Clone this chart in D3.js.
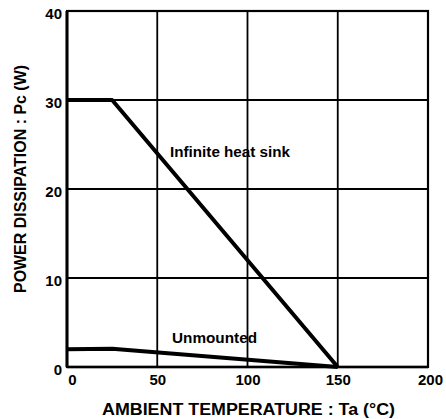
<!DOCTYPE html>
<html><head><meta charset="utf-8">
<script src="https://cdn.jsdelivr.net/npm/d3@7"></script>
<style>html,body{margin:0;padding:0;background:#fff;}svg{display:block;}</style>
</head><body>
<svg id="c" width="446" height="419"></svg>
<script>
const xTicks = [0, 50, 100, 150, 200];
const yTicks = [0, 10, 20, 30, 40];
const infiniteTemp = [0, 25, 150];
const infinitePower = [30, 30, 0];
const unmountedTemp = [0, 25, 150];
const unmountedPower = [2, 2.05, 0];
const seriesLabels = ["Infinite heat sink", "Unmounted"];
const xTitle = "AMBIENT TEMPERATURE : Ta (°C)";
const yTitle = "POWER DISSIPATION : Pc (W)";

const svg = d3.select("#c");
const font = "'Liberation Sans', Arial, Helvetica, sans-serif";
const x = d3.scaleLinear().domain([0, 200]).range([67, 428]);
const y = d3.scaleLinear().domain([0, 40]).range([367, 11]);

// grid
const g = svg.append("g");
g.selectAll("line.v").data(xTicks.slice(1, -1)).join("line")
  .attr("x1", d => x(d)).attr("x2", d => x(d)).attr("y1", y(40)).attr("y2", y(0))
  .attr("stroke", "#000").attr("stroke-width", 1.8);
g.selectAll("line.h").data(yTicks.slice(1, -1)).join("line")
  .attr("y1", d => y(d)).attr("y2", d => y(d)).attr("x1", x(0)).attr("x2", x(200))
  .attr("stroke", "#000").attr("stroke-width", 1.8);
// frame
g.append("rect").attr("x", x(0)).attr("y", y(40)).attr("width", x(200) - x(0)).attr("height", y(0) - y(40))
  .attr("fill", "none").attr("stroke", "#000").attr("stroke-width", 2.2);
g.append("line").attr("x1", x(0)).attr("x2", x(0)).attr("y1", y(40)).attr("y2", y(0))
  .attr("stroke", "#000").attr("stroke-width", 3);
g.append("line").attr("x1", x(0)).attr("x2", x(200)).attr("y1", y(0)).attr("y2", y(0))
  .attr("stroke", "#000").attr("stroke-width", 2.6);

// axes (labels only)
const xAxis = d3.axisBottom(x).tickValues(xTicks).tickSize(0).tickPadding(0).tickFormat(d3.format("d"));
const gx = svg.append("g").attr("transform", `translate(0,${y(0)})`).call(xAxis);
gx.select(".domain").remove();
gx.selectAll("text").attr("dy", null).attr("y", 18).attr("font-family", font).attr("font-size", 15)
  .attr("font-weight", "bold").attr("fill", "#000")
  .attr("dx", d => d === 0 ? 5 : (d === 200 ? 2 : 0));
const yAxis = d3.axisLeft(y).tickValues(yTicks).tickSize(0).tickPadding(0).tickFormat(d3.format("d"));
const gy = svg.append("g").attr("transform", `translate(${x(0) - 5},0)`).call(yAxis);
gy.select(".domain").remove();
gy.selectAll("text").attr("dy", "0.32em").attr("y", 3).attr("x", 0).attr("font-family", font).attr("font-size", 15)
  .attr("font-weight", "bold").attr("fill", "#000");

// data lines
const line = d3.line().x(d => x(d[0])).y(d => y(d[1]));
svg.append("path").datum(infiniteTemp.map((t, i) => [t, infinitePower[i]]))
  .attr("d", line).attr("fill", "none").attr("stroke", "#000").attr("stroke-width", 4).attr("stroke-linejoin", "round");
svg.append("path").datum(unmountedTemp.map((t, i) => [t, unmountedPower[i]]))
  .attr("d", line).attr("fill", "none").attr("stroke", "#000").attr("stroke-width", 4).attr("stroke-linejoin", "round");

// annotations
svg.append("text").attr("x", 170).attr("y", 157).text(seriesLabels[0])
  .attr("font-family", font).attr("font-size", 14).attr("font-weight", "bold").attr("fill", "#000")
  .attr("textLength", 120).attr("lengthAdjust", "spacingAndGlyphs");
svg.append("text").attr("x", 172).attr("y", 343).text(seriesLabels[1])
  .attr("font-family", font).attr("font-size", 14).attr("font-weight", "bold").attr("fill", "#000")
  .attr("textLength", 85).attr("lengthAdjust", "spacingAndGlyphs");

// titles
svg.append("text").attr("x", 102).attr("y", 415).text(xTitle)
  .attr("font-family", font).attr("font-size", 16).attr("fill", "#000").attr("font-weight", "bold")
  .attr("textLength", 293).attr("lengthAdjust", "spacingAndGlyphs");
svg.append("text").attr("transform", "translate(26,293) rotate(-90)").text(yTitle)
  .attr("font-family", font).attr("font-size", 16).attr("fill", "#000").attr("font-weight", "bold")
  .attr("textLength", 228).attr("lengthAdjust", "spacingAndGlyphs");
</script>
</body></html>
